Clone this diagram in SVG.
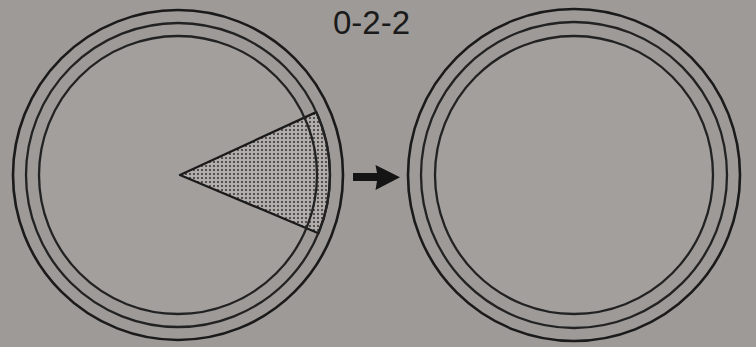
<svg xmlns="http://www.w3.org/2000/svg" width="756" height="347" viewBox="0 0 756 347">
<style>
.ring{fill:none;stroke:#1b1a1a;stroke-width:2.6}
.ringi{fill:none;stroke:#222;stroke-width:2.3}
.label{font-family:"Liberation Sans",Arial,sans-serif;font-size:33px;fill:#1a1a1a}
</style>
<defs>
<pattern id="dots" width="4" height="4" patternUnits="userSpaceOnUse">
<rect width="4" height="4" fill="#b0adaa"/>
<circle cx="2" cy="2" r="0.95" fill="#2a2a2a"/>
</pattern>
</defs>
<rect width="756" height="347" fill="#9d9a97"/>
<text class="label" x="333" y="34">0-2-2</text>
<g id="left-dish">
<circle cx="178" cy="175" r="139" fill="#a29f9c"/>
<path d="M180,175 L316.3,112.1 A152,152 0 0 1 318.4,233.2 Z" fill="url(#dots)" stroke="#1b1a1a" stroke-width="2.3" stroke-linejoin="round"/>
<circle class="ring" cx="178" cy="175" r="165"/>
<circle class="ringi" cx="178" cy="175" r="152"/>
<circle class="ringi" cx="178" cy="175" r="139"/>
</g>
<g id="right-dish">
<circle cx="574" cy="175" r="139" fill="#a29f9c"/>
<circle class="ring" cx="574" cy="175" r="166"/>
<circle class="ringi" cx="574" cy="175" r="153"/>
<circle class="ringi" cx="574" cy="175" r="139"/>
</g>
<g id="connectors">
<path d="M353,173 L377,173 L375.5,165 L400,177.3 L375.5,190 L377,181 L353,181 Z" fill="#141414"/>
</g>
</svg>
